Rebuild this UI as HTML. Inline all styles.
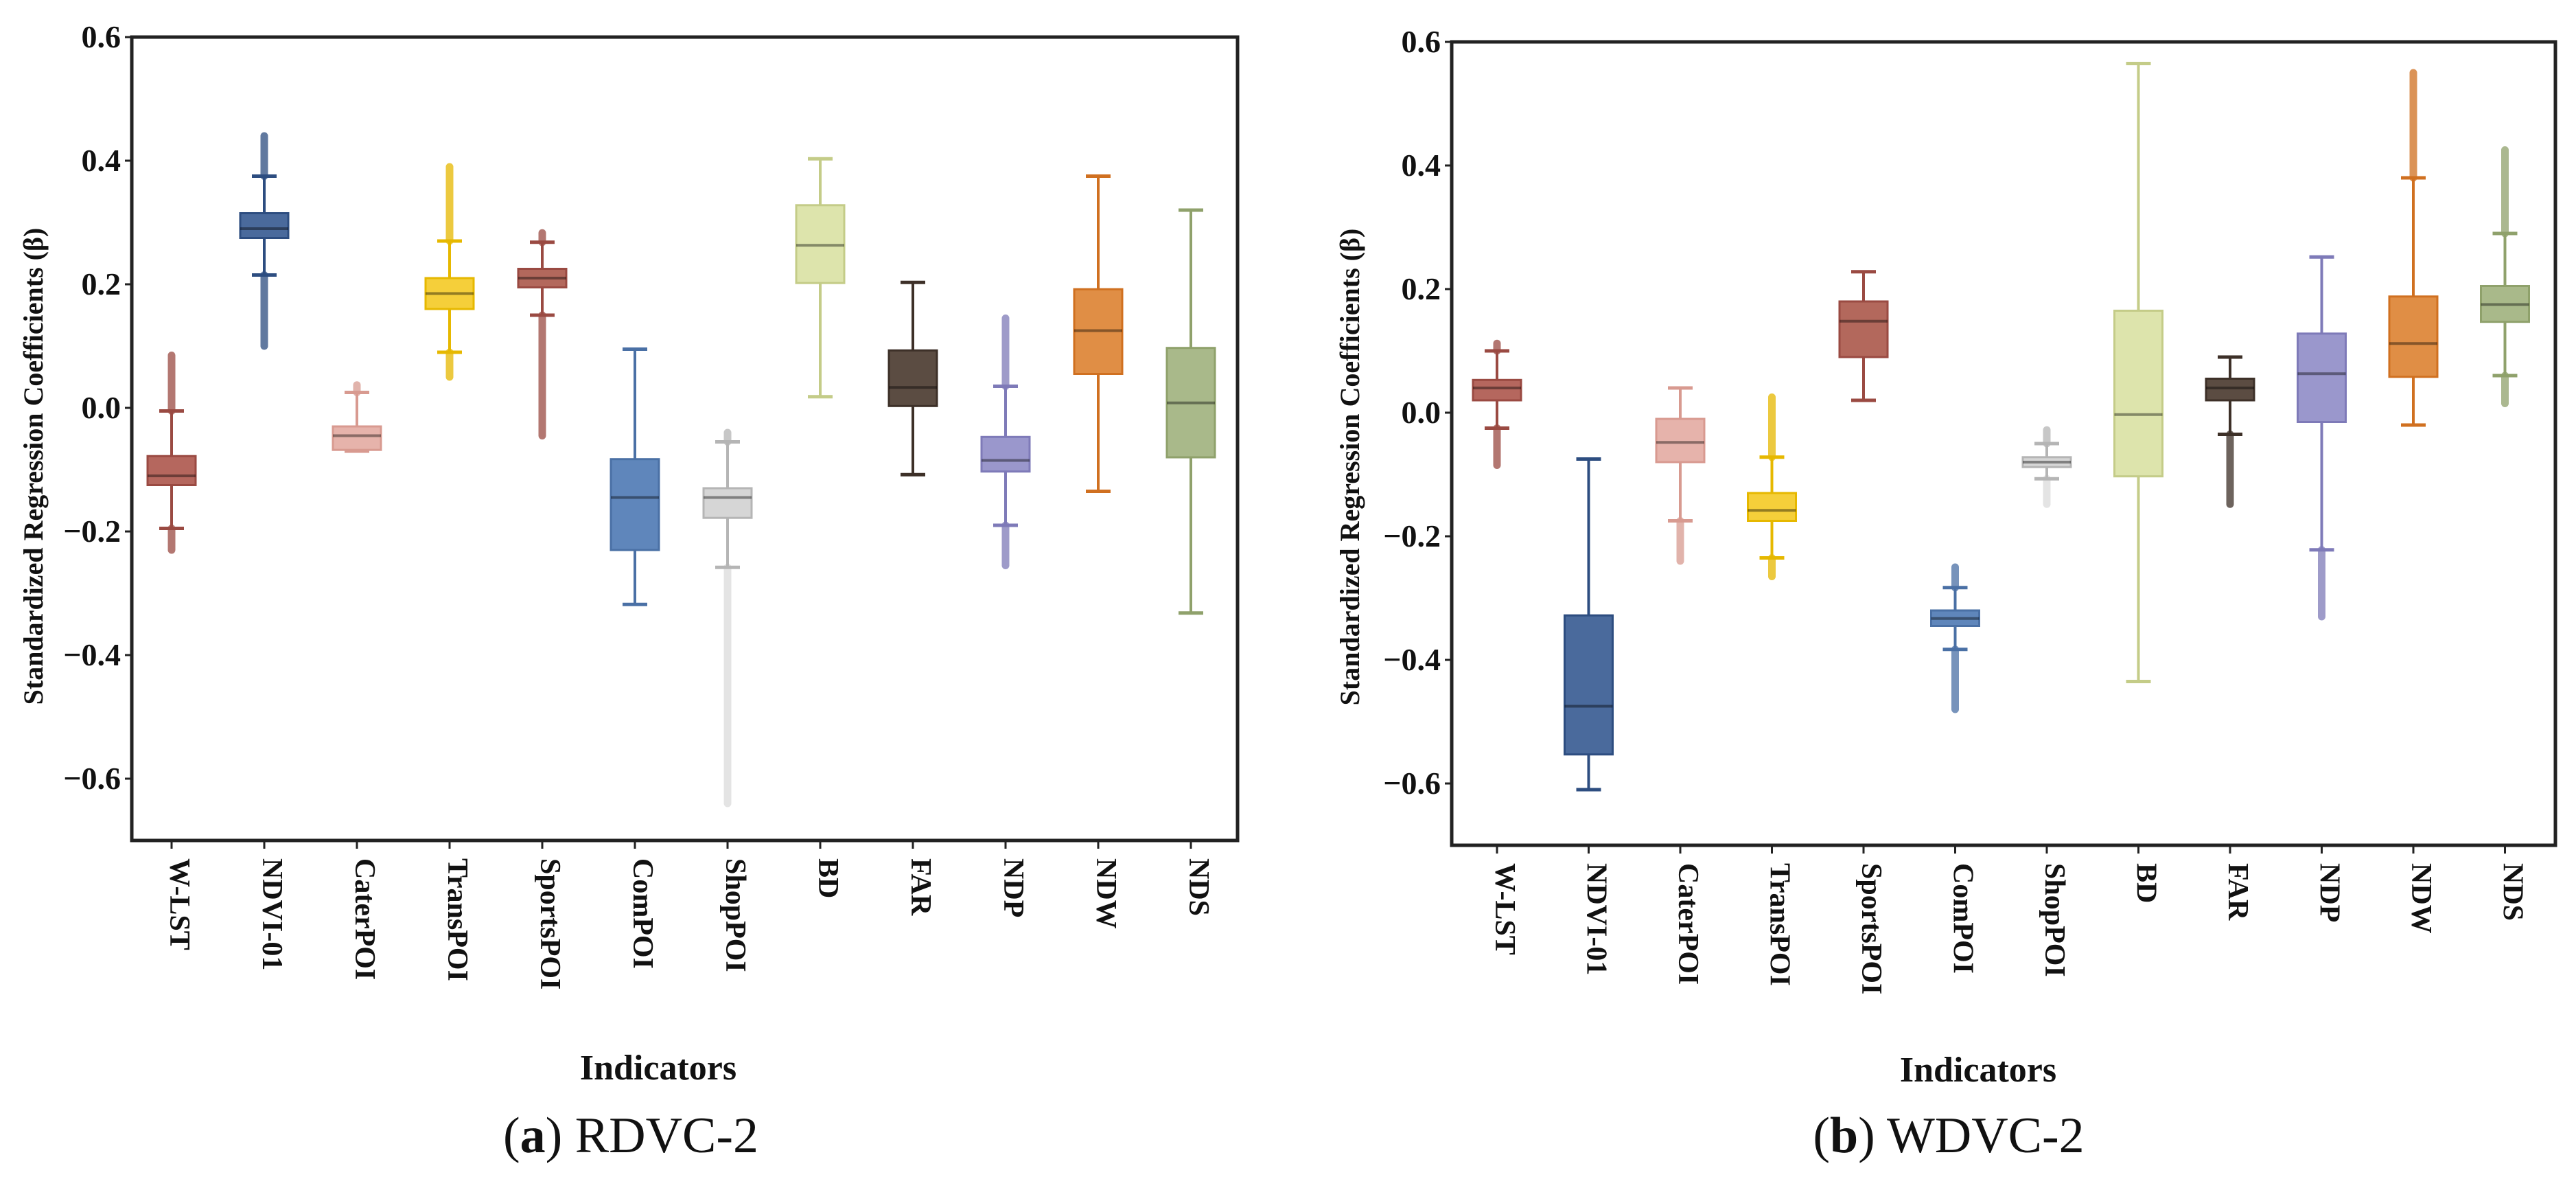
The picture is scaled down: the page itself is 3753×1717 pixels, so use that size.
<!DOCTYPE html>
<html><head><meta charset="utf-8"><style>
html,body{margin:0;padding:0;background:#fff;}
svg{display:block;}
text{font-family:"Liberation Serif","DejaVu Serif",serif;}
</style></head><body>
<svg id="fig" xmlns="http://www.w3.org/2000/svg" width="3753" height="1717" viewBox="0 0 3753 1717"></svg>
<script>
const categories=["W-LST","NDVI-01","CaterPOI","TransPOI","SportsPOI","ComPOI","ShopPOI","BD","FAR","NDP","NDW","NDS"];
const yTicks=[0.6,0.4,0.2,0.0,-0.2,-0.4,-0.6];
const yTickLabels=["0.6","0.4","0.2","0.0","\u22120.2","\u22120.4","\u22120.6"];
const fills=["#b5675e","#4a6a9c","#e6b3ab","#f5cf3a","#b3685c","#5f86bb","#d6d6d6","#dde4ac","#5b4c42","#9a97cc","#e08e45","#a9b98a"];
const strokes=["#9a4a42","#2d4d80","#d89a90","#e6b800","#9a4a42","#4a70a5","#b5b5b5","#c4cc88","#3d3028","#7e7ab8","#d07020","#8fa16b"];
// Panel (a) RDVC-2
const aQ1=[-0.125,0.275,-0.068,0.16,0.195,-0.23,-0.178,0.202,0.003,-0.103,0.055,-0.08];
const aMed=[-0.11,0.29,-0.045,0.185,0.21,-0.145,-0.145,0.263,0.033,-0.085,0.125,0.008];
const aQ3=[-0.078,0.315,-0.03,0.21,0.225,-0.083,-0.13,0.328,0.093,-0.047,0.192,0.097];
const aLo=[-0.195,0.215,-0.07,0.09,0.15,-0.318,-0.258,0.018,-0.108,-0.19,-0.135,-0.332];
const aHi=[-0.005,0.375,0.025,0.27,0.268,0.095,-0.055,0.403,0.203,0.035,0.375,0.32];
const aOutHi=[0.085,0.44,0.037,0.39,0.283,null,-0.04,null,null,0.145,null,null];
const aOutLo=[-0.23,0.1,null,0.05,-0.045,null,-0.64,null,null,-0.255,null,null];
// Panel (b) WDVC-2
const bQ1=[0.02,-0.553,-0.08,-0.175,0.09,-0.345,-0.088,-0.103,0.02,-0.015,0.058,0.147];
const bMed=[0.04,-0.475,-0.048,-0.158,0.148,-0.333,-0.08,-0.003,0.04,0.063,0.112,0.175];
const bQ3=[0.053,-0.328,-0.01,-0.13,0.18,-0.32,-0.072,0.165,0.055,0.128,0.188,0.205];
const bLo=[-0.025,-0.61,-0.175,-0.235,0.02,-0.383,-0.107,-0.435,-0.035,-0.222,-0.02,0.06];
const bHi=[0.1,-0.075,0.04,-0.072,0.228,-0.283,-0.05,0.565,0.09,0.252,0.38,0.29];
const bOutHi=[0.112,null,null,0.025,null,-0.25,-0.028,null,null,null,0.55,0.425];
const bOutLo=[-0.085,null,-0.24,-0.265,null,-0.48,-0.148,null,-0.148,-0.33,null,0.015];

const NS="http://www.w3.org/2000/svg";
const svg=document.getElementById('fig');
function mk(tag,attrs,parent,txt){const e=document.createElementNS(NS,tag);for(const k in attrs)e.setAttribute(k,attrs[k]);if(txt!==undefined)e.textContent=txt;(parent||svg).appendChild(e);return e;}

function panel(cfg,Q1,MED,Q3,LO,HI,OH,OL){
  const g=mk('g',{});
  
  
  const y=v=>cfg.y0-v*cfg.ys;
  const x=i=>cfg.x0+i*cfg.step;
  const top=y(0.6),bot=y(-0.7);
  yTicks.forEach((t,i)=>{
    const tk=mk('line',{x1:cfg.left-10,x2:cfg.left,y1:y(t),y2:y(t),stroke:'#222','stroke-width':3},g);
    
    
    const tl=mk('text',{x:cfg.left-16,y:y(t)+15,'text-anchor':'end','font-size':46,'font-weight':'bold',fill:'#111'},g,yTickLabels[i]);
    
    
  });
  categories.forEach((c,i)=>{
    const cx=x(i);
    const tk=mk('line',{x1:cx,x2:cx,y1:bot,y2:bot+12,stroke:'#222','stroke-width':3},g);
    
    
    const lb=mk('text',{x:0,y:0,transform:`translate(${cx-2},${bot+26}) rotate(90)`,'font-size':42,'font-weight':'bold',fill:'#111'},g,c);
    
    
    const bg=mk('g',{},g);
    
    
    const w=cfg.bw, cw=36;
    if(OH[i]!==null){const o=mk('line',{x1:cx,x2:cx,y1:y(HI[i]),y2:y(OH[i]),stroke:strokes[i],'stroke-width':11,'stroke-linecap':'round',opacity:0.75},bg);
      }
    if(OL[i]!==null){const o=mk('line',{x1:cx,x2:cx,y1:y(LO[i]),y2:y(OL[i]),stroke:strokes[i],'stroke-width':11,'stroke-linecap':'round',opacity:(c==='ShopPOI'?0.35:0.75)},bg);
      }
    const wl=mk('line',{x1:cx,x2:cx,y1:y(HI[i]),y2:y(LO[i]),stroke:strokes[i],'stroke-width':4},bg);
    
    [HI[i],LO[i]].forEach(v=>{const cp=mk('line',{x1:cx-cw/2,x2:cx+cw/2,y1:y(v),y2:y(v),stroke:strokes[i],'stroke-width':5},bg);
      });
    const r=mk('rect',{x:cx-w/2,y:y(Q3[i]),width:w,height:y(Q1[i])-y(Q3[i]),fill:fills[i],stroke:strokes[i],'stroke-width':3},bg);
    
    const m=mk('line',{x1:cx-w/2,x2:cx+w/2,y1:y(MED[i]),y2:y(MED[i]),stroke:'rgba(0,0,0,0.4)','stroke-width':4},bg);
    
  });
  const fr=mk('rect',{x:cfg.left,y:top,width:cfg.right-cfg.left,height:bot-top,fill:'none',stroke:'#222','stroke-width':5},g);
  
  const yt=mk('text',{x:0,y:0,transform:`translate(${cfg.ytx},${cfg.yty}) rotate(-90)`,'text-anchor':'middle','font-size':40,'font-weight':'bold',fill:'#111'},g,'Standardized Regression Coefficients (\u03b2)');
  
  const xt=mk('text',{x:cfg.xtx,y:cfg.xty,'text-anchor':'middle','font-size':52,'font-weight':'bold',fill:'#111'},g,'Indicators');
  
  const cap=mk('text',{x:cfg.cx,y:cfg.cy,'text-anchor':'middle','font-size':74,fill:'#111'},g);
  
  mk('tspan',{},cap,'(');mk('tspan',{'font-weight':'bold'},cap,cfg.letter);mk('tspan',{},cap,') '+cfg.title);
}
panel({name:'panel-a-rdvc2',left:192,right:1803,y0:594,ys:900,x0:250,step:135,bw:70,ytx:62,yty:679,xtx:959,xty:1572,cx:919,cy:1678,letter:'a',title:'RDVC-2'},aQ1,aMed,aQ3,aLo,aHi,aOutHi,aOutLo);
panel({name:'panel-b-wdvc2',left:2115,right:3723,y0:601,ys:900,x0:2181,step:133.5,bw:70,ytx:1980,yty:680,xtx:2882,xty:1575,cx:2839,cy:1678,letter:'b',title:'WDVC-2'},bQ1,bMed,bQ3,bLo,bHi,bOutHi,bOutLo);
</script>
</body></html>
